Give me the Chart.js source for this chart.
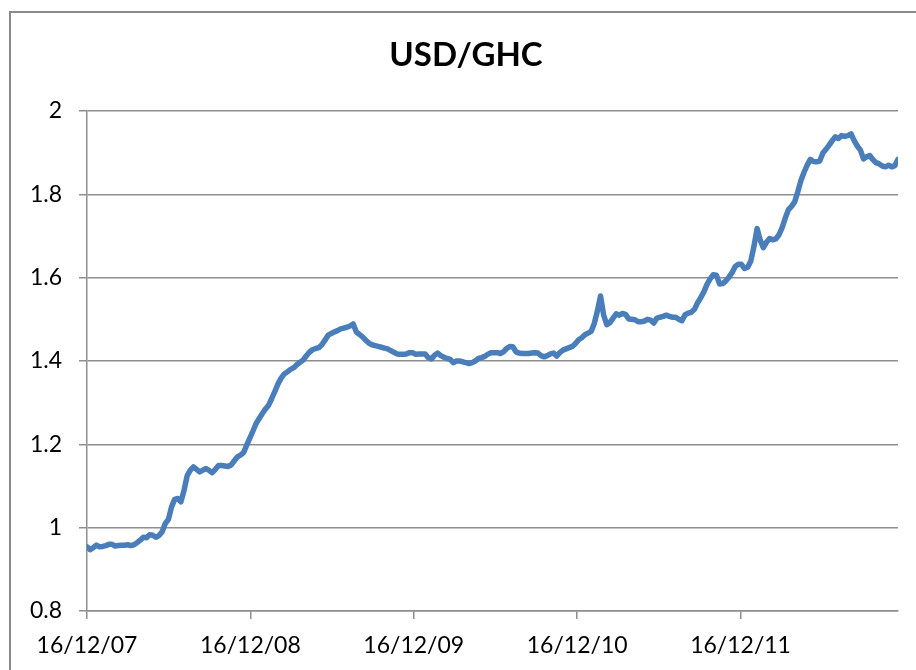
<!DOCTYPE html>
<html>
<head>
<meta charset="utf-8">
<script src="https://cdn.jsdelivr.net/npm/chart.js@4.4.1/dist/chart.umd.min.js"></script>
<style>
  html, body { margin: 0; padding: 0; width: 916px; height: 670px; overflow: hidden; background: #ffffff; }
  #frame { position: absolute; left: 9px; top: 11px; width: 1000px; height: 800px;
           border-left: 2px solid #8a8a8a; border-top: 2px solid #8a8a8a; box-sizing: border-box; }
  #wrap { position: absolute; left: 0; top: 0; width: 916px; height: 670px; }
</style>
</head>
<body>
<div id="frame"></div>
<div id="wrap"><canvas id="c" width="916" height="670"></canvas></div>
<script>
// Chart title
const chartTitle = 'USD/GHC';
// Year tick labels shown on the x axis (one per year from the first observation)
const tickLabels = ['16/12/07', '16/12/08', '16/12/09', '16/12/10', '16/12/11'];
// Y axis ticks
const yTicks = [0.8, 1, 1.2, 1.4, 1.6, 1.8, 2];
// Weekly USD/GHC rate, starting 16/12/2007
const usdGhc = [
  0.954, 0.947, 0.952, 0.958, 0.954, 0.955, 0.957, 0.960, 0.960, 0.956,
  0.957, 0.958, 0.958, 0.959, 0.957, 0.959, 0.964, 0.970, 0.977, 0.976,
  0.983, 0.982, 0.977, 0.981, 0.990, 1.010, 1.020, 1.050, 1.068, 1.070,
  1.062, 1.090, 1.125, 1.138, 1.146, 1.140, 1.134, 1.138, 1.142, 1.137,
  1.132, 1.140, 1.149, 1.149, 1.148, 1.147, 1.150, 1.160, 1.170, 1.174,
  1.180, 1.198, 1.215, 1.232, 1.250, 1.262, 1.274, 1.285, 1.294, 1.310,
  1.327, 1.345, 1.359, 1.369, 1.374, 1.380, 1.384, 1.391, 1.397, 1.402,
  1.412, 1.421, 1.427, 1.430, 1.432, 1.439, 1.450, 1.462, 1.466, 1.470,
  1.473, 1.477, 1.479, 1.481, 1.484, 1.489, 1.470, 1.464, 1.458, 1.450,
  1.443, 1.439, 1.437, 1.435, 1.433, 1.431, 1.429, 1.425, 1.421, 1.417,
  1.416, 1.416, 1.417, 1.420, 1.420, 1.416, 1.417, 1.417, 1.417, 1.408,
  1.405, 1.414, 1.419, 1.413, 1.409, 1.406, 1.404, 1.396, 1.400, 1.400,
  1.398, 1.396, 1.394, 1.396, 1.400, 1.406, 1.408, 1.411, 1.416, 1.420,
  1.420, 1.420, 1.418, 1.422, 1.430, 1.435, 1.434, 1.422, 1.419, 1.418,
  1.418, 1.418, 1.419, 1.420, 1.419, 1.413, 1.410, 1.413, 1.417, 1.419,
  1.412, 1.420, 1.426, 1.429, 1.432, 1.435, 1.442, 1.451, 1.456, 1.463,
  1.467, 1.471, 1.490, 1.520, 1.556, 1.510, 1.487, 1.492, 1.503, 1.513,
  1.510, 1.514, 1.512, 1.501, 1.500, 1.499, 1.494, 1.494, 1.496, 1.500,
  1.498, 1.491, 1.503, 1.505, 1.507, 1.510, 1.507, 1.505, 1.505, 1.500,
  1.497, 1.511, 1.515, 1.517, 1.524, 1.540, 1.552, 1.566, 1.584, 1.597,
  1.607, 1.606, 1.585, 1.586, 1.592, 1.601, 1.612, 1.627, 1.632, 1.632,
  1.622, 1.625, 1.640, 1.675, 1.718, 1.690, 1.672, 1.685, 1.694, 1.691,
  1.693, 1.703, 1.720, 1.743, 1.763, 1.771, 1.782, 1.806, 1.833, 1.853,
  1.870, 1.884, 1.879, 1.878, 1.880, 1.899, 1.908, 1.918, 1.929, 1.938,
  1.934, 1.941, 1.939, 1.941, 1.945, 1.929, 1.916, 1.906, 1.885, 1.890,
  1.893, 1.883, 1.876, 1.873, 1.868, 1.866, 1.870, 1.866, 1.869, 1.884
];

// x position of each weekly observation, in years since the first one
const WEEK_IN_YEARS = 7 / 365.25;
const points = usdGhc.map((v, i) => ({ x: i * WEEK_IN_YEARS, y: v }));
const xMax = (usdGhc.length - 1) * WEEK_IN_YEARS;

const gridColor = '#8e8e8e';
const fontFamily = 'Lato, "Open Sans", sans-serif';

new Chart(document.getElementById('c'), {
  type: 'line',
  data: {
    datasets: [{
      label: chartTitle,
      data: points,
      borderColor: '#4a7ebb',
      borderWidth: 5.5,
      pointRadius: 0,
      tension: 0,
      fill: false,
      borderJoinStyle: 'round',
      borderCapStyle: 'round'
    }]
  },
  options: {
    responsive: false,
    animation: false,
    events: [],
    layout: { padding: { left: 16, right: 0, top: 0, bottom: 0 } },
    plugins: {
      legend: { display: false },
      tooltip: { enabled: false },
      title: {
        display: true,
        text: chartTitle,
        color: '#000000',
        font: { family: fontFamily, size: 33, weight: 'bold', lineHeight: 1.2 },
        padding: { top: 36, bottom: 35.4 }
      }
    },
    scales: {
      x: {
        type: 'linear',
        min: 0,
        max: xMax,
        afterFit: (s) => { s.height = 59; },
        grid: {
          drawOnChartArea: false,
          drawTicks: true,
          tickLength: 8,
          color: gridColor,
          lineWidth: 1.5
        },
        border: { display: true, color: gridColor, width: 1.5 },
        ticks: {
          stepSize: 1,
          includeBounds: false,
          autoSkip: false,
          maxRotation: 0,
          padding: 13,
          color: '#000000',
          font: { family: fontFamily, size: 23 },
          callback: (v) => {
            const i = Math.round(v);
            return Math.abs(v - i) < 1e-6 && tickLabels[i] !== undefined ? tickLabels[i] : '';
          }
        }
      },
      y: {
        min: yTicks[0],
        max: yTicks[yTicks.length - 1],
        afterFit: (s) => { s.width = 71; },
        afterBuildTicks: (s) => { s.ticks = yTicks.map(v => ({ value: v })); },
        grid: {
          color: gridColor,
          lineWidth: 1.5,
          drawTicks: true,
          tickLength: 8
        },
        border: { display: true, color: gridColor, width: 1.5 },
        ticks: {
          padding: 17,
          color: '#000000',
          font: { family: fontFamily, size: 23 },
          callback: (v) => String(Number(Number(v).toFixed(1)))
        }
      },
      // empty spacer on the right so the plot ends where the reference's does
      spacer: {
        type: 'linear',
        position: 'right',
        display: true,
        afterFit: (s) => { s.width = 18; },
        grid: { display: false, drawTicks: false },
        border: { display: false },
        ticks: { display: false }
      }
    }
  }
});
</script>
</body>
</html>
